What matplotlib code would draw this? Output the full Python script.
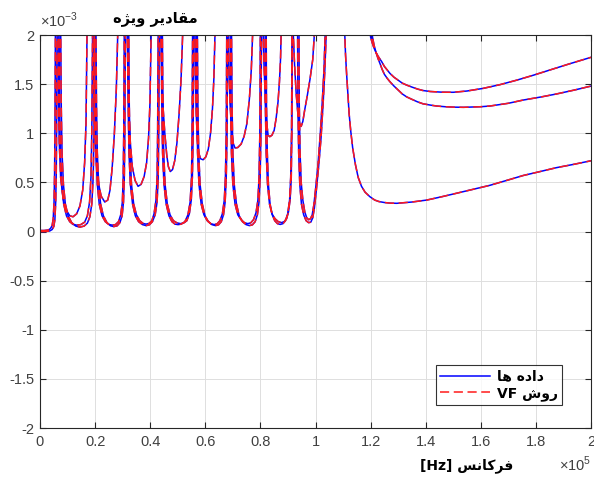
import numpy as np
import matplotlib.pyplot as plt
from matplotlib.ticker import FuncFormatter

# frequency in units of 1e5 Hz, eigenvalues in units of 1e-3
# lower pair of eigenvalues, one sub-list per arc between resonances
low1_f = [[0.0, 0.015, 0.03, 0.038, 0.044, 0.048, 0.051, 0.053, 0.0545, 0.056],
          [0.075, 0.077, 0.08, 0.085, 0.092, 0.102, 0.115, 0.13, 0.145, 0.16, 0.172, 0.181, 0.188, 0.193, 0.196, 0.198],
          [0.203, 0.205, 0.208, 0.213, 0.22, 0.23, 0.243, 0.256, 0.268, 0.28, 0.29, 0.298, 0.303, 0.306, 0.308, 0.31],
          [0.318, 0.32, 0.323, 0.328, 0.336, 0.346, 0.358, 0.372, 0.385, 0.397, 0.408, 0.418, 0.425, 0.429, 0.431, 0.433],
          [0.444, 0.446, 0.449, 0.454, 0.462, 0.472, 0.484, 0.497, 0.51, 0.522, 0.533, 0.542, 0.549, 0.553, 0.556, 0.558],
          [0.571, 0.573, 0.576, 0.581, 0.589, 0.599, 0.611, 0.624, 0.637, 0.648, 0.658, 0.666, 0.672, 0.676, 0.679, 0.681],
          [0.695, 0.697, 0.7, 0.705, 0.713, 0.723, 0.735, 0.748, 0.76, 0.771, 0.781, 0.789, 0.795, 0.799, 0.802, 0.804],
          [0.821, 0.822, 0.825, 0.829, 0.835, 0.843, 0.852, 0.862, 0.872, 0.882, 0.891, 0.899, 0.906, 0.91, 0.913, 0.915],
          [0.935, 0.936, 0.939, 0.943, 0.949, 0.957, 0.966, 0.975, 0.983, 0.99, 0.996, 1.003, 1.011, 1.02, 1.028, 1.034, 1.04]]
low1_v = [[0.01, 0.01, 0.015, 0.03, 0.06, 0.13, 0.3, 0.6, 1.1, 2.1],
          [2.1, 1.3, 0.8, 0.48, 0.28, 0.16, 0.09, 0.055, 0.045, 0.055, 0.085, 0.15, 0.28, 0.55, 1.0, 2.1],
          [2.1, 1.3, 0.8, 0.48, 0.28, 0.16, 0.09, 0.058, 0.05, 0.058, 0.09, 0.16, 0.3, 0.55, 1.0, 2.1],
          [2.1, 1.3, 0.8, 0.48, 0.28, 0.16, 0.1, 0.07, 0.06, 0.068, 0.1, 0.17, 0.3, 0.55, 1.0, 2.1],
          [2.1, 1.3, 0.8, 0.48, 0.28, 0.17, 0.11, 0.088, 0.08, 0.088, 0.11, 0.18, 0.32, 0.55, 1.0, 2.1],
          [2.1, 1.3, 0.8, 0.48, 0.28, 0.16, 0.1, 0.07, 0.06, 0.068, 0.1, 0.17, 0.3, 0.55, 1.0, 2.1],
          [2.1, 1.3, 0.8, 0.48, 0.28, 0.16, 0.1, 0.07, 0.06, 0.068, 0.1, 0.17, 0.3, 0.55, 1.0, 2.1],
          [2.1, 1.3, 0.8, 0.48, 0.28, 0.17, 0.11, 0.08, 0.072, 0.08, 0.11, 0.18, 0.32, 0.55, 1.0, 2.1],
          [2.1, 1.3, 0.8, 0.48, 0.28, 0.17, 0.11, 0.09, 0.095, 0.14, 0.24, 0.42, 0.65, 0.95, 1.32, 1.65, 2.1]]

low2_f = [[0.0, 0.02, 0.035, 0.044, 0.05, 0.054, 0.057, 0.059, 0.0605, 0.062],
          [0.069, 0.071, 0.074, 0.079, 0.086, 0.096, 0.108, 0.12, 0.133, 0.148, 0.162, 0.172, 0.18, 0.185, 0.188, 0.191],
          [0.198, 0.2, 0.203, 0.208, 0.215, 0.225, 0.237, 0.25, 0.262, 0.274, 0.285, 0.293, 0.299, 0.302, 0.304, 0.306],
          [0.322, 0.324, 0.327, 0.332, 0.34, 0.35, 0.362, 0.374, 0.385, 0.396, 0.406, 0.414, 0.421, 0.425, 0.427, 0.429],
          [0.44, 0.442, 0.445, 0.45, 0.458, 0.468, 0.479, 0.49, 0.501, 0.513, 0.526, 0.537, 0.545, 0.55, 0.552, 0.554],
          [0.567, 0.569, 0.572, 0.577, 0.585, 0.595, 0.607, 0.62, 0.632, 0.643, 0.653, 0.662, 0.669, 0.673, 0.676, 0.678],
          [0.69, 0.692, 0.695, 0.7, 0.708, 0.718, 0.73, 0.742, 0.754, 0.765, 0.775, 0.784, 0.791, 0.795, 0.798, 0.8],
          [0.817, 0.818, 0.821, 0.826, 0.833, 0.842, 0.853, 0.865, 0.876, 0.886, 0.895, 0.902, 0.908, 0.912, 0.914, 0.916],
          [0.94, 0.941, 0.944, 0.948, 0.954, 0.961, 0.968, 0.975, 0.982, 0.988, 0.994, 1.001, 1.009, 1.017, 1.025, 1.031, 1.036]]
low2_v = [[0.0, 0.0, 0.005, 0.02, 0.05, 0.12, 0.3, 0.6, 1.1, 2.1],
          [2.1, 1.3, 0.8, 0.48, 0.28, 0.16, 0.1, 0.072, 0.065, 0.07, 0.095, 0.16, 0.3, 0.55, 1.0, 2.1],
          [2.1, 1.3, 0.8, 0.48, 0.28, 0.16, 0.1, 0.072, 0.065, 0.07, 0.1, 0.17, 0.3, 0.55, 1.0, 2.1],
          [2.1, 1.3, 0.8, 0.48, 0.28, 0.17, 0.11, 0.082, 0.075, 0.082, 0.11, 0.18, 0.32, 0.55, 1.0, 2.1],
          [2.1, 1.3, 0.8, 0.48, 0.28, 0.16, 0.1, 0.075, 0.07, 0.075, 0.1, 0.17, 0.3, 0.55, 1.0, 2.1],
          [2.1, 1.3, 0.8, 0.48, 0.28, 0.17, 0.11, 0.08, 0.07, 0.078, 0.11, 0.18, 0.32, 0.55, 1.0, 2.1],
          [2.1, 1.3, 0.8, 0.48, 0.28, 0.17, 0.12, 0.09, 0.08, 0.088, 0.12, 0.19, 0.32, 0.55, 1.0, 2.1],
          [2.1, 1.3, 0.8, 0.48, 0.28, 0.18, 0.13, 0.1, 0.09, 0.1, 0.13, 0.2, 0.33, 0.55, 1.0, 2.1],
          [2.1, 1.3, 0.8, 0.5, 0.32, 0.2, 0.14, 0.12, 0.13, 0.17, 0.27, 0.45, 0.68, 0.98, 1.34, 1.66, 2.1]]

# upper eigenvalue, minima climbing from peak to peak
up_f = [[0.065, 0.067, 0.07, 0.075, 0.084, 0.095, 0.108, 0.12, 0.133, 0.145, 0.155, 0.162, 0.167, 0.171],
        [0.192, 0.195, 0.2, 0.206, 0.213, 0.222, 0.235, 0.246, 0.254, 0.262, 0.27, 0.277, 0.283],
        [0.316, 0.319, 0.323, 0.328, 0.335, 0.345, 0.356, 0.367, 0.378, 0.387, 0.394, 0.399, 0.404],
        [0.438, 0.442, 0.447, 0.453, 0.46, 0.466, 0.473, 0.481, 0.489, 0.497, 0.505, 0.512, 0.519],
        [0.562, 0.564, 0.567, 0.571, 0.576, 0.583, 0.592, 0.602, 0.611, 0.619, 0.626, 0.631, 0.636],
        [0.682, 0.686, 0.69, 0.695, 0.701, 0.708, 0.718, 0.73, 0.741, 0.751, 0.76, 0.767, 0.773],
        [0.809, 0.813, 0.818, 0.823, 0.828, 0.834, 0.842, 0.85, 0.857, 0.864, 0.869, 0.873, 0.876],
        [0.918, 0.924, 0.93, 0.936, 0.942, 0.948, 0.954, 0.961, 0.97, 0.98, 0.99, 0.998]]
up_v = [[2.1, 1.3, 0.9, 0.55, 0.33, 0.22, 0.16, 0.15, 0.18, 0.26, 0.42, 0.7, 1.1, 2.1],
        [2.1, 1.4, 0.95, 0.66, 0.48, 0.36, 0.30, 0.32, 0.42, 0.65, 1.0, 1.45, 2.1],
        [2.1, 1.6, 1.2, 0.9, 0.66, 0.52, 0.46, 0.48, 0.56, 0.7, 0.95, 1.3, 2.1],
        [2.1, 1.6, 1.25, 1.0, 0.78, 0.66, 0.61, 0.63, 0.72, 0.9, 1.2, 1.55, 2.1],
        [2.1, 1.6, 1.2, 0.95, 0.8, 0.74, 0.73, 0.76, 0.84, 1.0, 1.25, 1.55, 2.1],
        [2.1, 1.6, 1.3, 1.05, 0.9, 0.85, 0.855, 0.89, 0.97, 1.1, 1.35, 1.65, 2.1],
        [2.1, 1.7, 1.35, 1.1, 0.98, 0.965, 0.98, 1.03, 1.15, 1.32, 1.52, 1.75, 2.1],
        [2.1, 1.7, 1.4, 1.2, 1.1, 1.07, 1.12, 1.24, 1.38, 1.55, 1.75, 2.1]]

# the three branches above 1.1e5 Hz
tail_low_f = [1.105, 1.109, 1.113, 1.118, 1.122, 1.128, 1.135, 1.145, 1.155, 1.167, 1.18, 1.197,
              1.215, 1.23, 1.25, 1.27, 1.295, 1.35, 1.404, 1.46, 1.513, 1.573, 1.633, 1.694,
              1.754, 1.815, 1.875, 1.94, 2.0]
tail_low_v = [2.1, 1.8, 1.6, 1.38, 1.2, 1.02, 0.85, 0.68, 0.55, 0.46, 0.4, 0.355,
              0.32, 0.305, 0.295, 0.289, 0.287, 0.3, 0.32, 0.355, 0.39, 0.43, 0.47, 0.52,
              0.57, 0.61, 0.65, 0.685, 0.72]
tail_a_f = [1.196, 1.2, 1.206, 1.212, 1.22, 1.228, 1.24, 1.25, 1.26, 1.27, 1.285, 1.3, 1.315,
            1.331, 1.35, 1.37, 1.39, 1.416, 1.46, 1.5, 1.55, 1.609, 1.67, 1.73, 1.79,
            1.851, 1.92, 2.0]
tail_a_v = [2.1, 1.98, 1.92, 1.87, 1.82, 1.78, 1.73, 1.68, 1.645, 1.61, 1.57, 1.54, 1.51,
            1.49, 1.47, 1.45, 1.435, 1.425, 1.418, 1.417, 1.43, 1.457, 1.495, 1.54, 1.59,
            1.644, 1.705, 1.773]
tail_b_f = [1.203, 1.207, 1.213, 1.22, 1.227, 1.234, 1.242, 1.25, 1.26, 1.27, 1.285, 1.3,
            1.315, 1.331, 1.35, 1.37, 1.39, 1.416, 1.44, 1.47, 1.5, 1.537, 1.6, 1.633, 1.7,
            1.754, 1.82, 1.875, 1.94, 2.0]
tail_b_v = [2.1, 1.976, 1.89, 1.82, 1.76, 1.71, 1.65, 1.6, 1.56, 1.525, 1.48, 1.44,
            1.4, 1.37, 1.345, 1.32, 1.3, 1.287, 1.277, 1.27, 1.266, 1.264, 1.27, 1.277, 1.305,
            1.338, 1.37, 1.40, 1.44, 1.48]

# Persian text, pre-shaped and in visual order
title_txt = "\ufee9\ufb8b\ufef3\ufeed \ufeae\ufef3\ufea9\ufe8e\ufed8\ufee3"
xlabel_txt = "[Hz] \ufeb2\ufee7\ufe8e\ufb90\ufeae\ufed3"
leg_data = "\ufe8e\ufeeb \ufee9\ufea9\ufe8d\ufea9"
leg_vf = "VF \ufeb5\ufeed\ufead"

plt.rcParams['font.family'] = ['Liberation Sans', 'DejaVu Sans']
plt.rcParams['mathtext.fontset'] = 'custom'
plt.rcParams['mathtext.rm'] = 'Liberation Sans'

fig = plt.figure(figsize=(5.94, 4.8), dpi=100)
ax = fig.add_axes([40 / 594, 52 / 480, 551 / 594, 393 / 480])

all_f = low1_f + low2_f + up_f + [tail_low_f, tail_a_f, tail_b_f]
all_v = low1_v + low2_v + up_v + [tail_low_v, tail_a_v, tail_b_v]

# data (blue) and VF fit (red dashed) drawn over it
for f, v in zip(all_f, all_v):
    hb, = ax.plot(f, v, color='#0000ff', lw=1.1)
for f, v in zip(all_f, all_v):
    hr, = ax.plot(f, v, color='#ff1a1a', lw=1.1, dashes=(6, 3))

ax.set_xlim(0, 2)
ax.set_ylim(-2, 2)
ax.set_xticks(np.arange(0, 2.01, 0.2))
ax.set_yticks(np.arange(-2, 2.01, 0.5))
fmt = FuncFormatter(lambda x, p: '%g' % round(x, 2))
ax.xaxis.set_major_formatter(fmt)
ax.yaxis.set_major_formatter(fmt)
ax.tick_params(direction='in', length=4, top=True, right=True,
               labelsize=10.5, labelcolor='#404040', color='#262626', width=0.8)
ax.tick_params(axis='x', pad=5)
ax.tick_params(axis='y', pad=4)
ax.grid(True, color='#dedede', lw=0.7)
ax.set_axisbelow(True)
for s in ax.spines.values():
    s.set_color('#262626')
    s.set_linewidth(0.8)

fig.text(40 / 594, 1 - 20 / 480, r'$\times10^{-3}$', fontsize=10.5, color='#404040',
         ha='left', va='center')
fig.text(591 / 594, 1 - 464 / 480, r'$\times10^{5}$', fontsize=10.5, color='#404040',
         ha='right', va='center')
fig.text(155 / 594, 1 - 18 / 480, title_txt, fontsize=10.5, fontweight='bold',
         family=['DejaVu Sans'], ha='center', va='center')
fig.text(467 / 594, 1 - 466 / 480, xlabel_txt, fontsize=10, fontweight='bold',
         family=['DejaVu Sans'], ha='center', va='center')

leg = ax.legend([hb, hr], [leg_data, leg_vf], loc='lower right',
                bbox_to_anchor=(0.947, 0.058), frameon=True, fancybox=False,
                edgecolor='black', handlelength=3.6, borderpad=0.3,
                labelspacing=0.2, handletextpad=0.5, borderaxespad=0,
                prop={'family': 'DejaVu Sans', 'weight': 'bold', 'size': 10})
leg.get_frame().set_linewidth(0.8)

fig.savefig('out.png', dpi=100)
